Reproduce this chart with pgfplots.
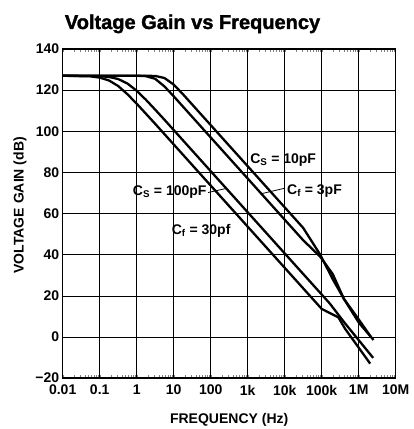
\documentclass[border=0pt]{standalone}
\usepackage{fontspec}
\setmainfont{Liberation Sans}
\newfontfamily\titlefont[FakeBold=1.6]{Liberation Sans Bold}
\usepackage{pgfplots}
\pgfplotsset{compat=1.18}
\begin{document}
\begin{tikzpicture}[curve/.style={black, line width=2.3pt, line join=round, mark=none}]
\begin{axis}[
  at={(0,0)}, anchor=south west,
  width=333pt, height=329pt, scale only axis,
  xmode=log, xmin=1e-2, xmax=1e7,
  ymin=-20, ymax=140,
  xtick={1e-2,1e-1,1,10,100,1e3,1e4,1e5,1e6,1e7},
  xticklabels={0.01,0.1,1,10,100,1k,10k,100k,1M,10M},
  ytick={-20,0,20,40,60,80,100,120,140},
  yticklabels={−20,0,20,40,60,80,100,120,140},
  minor xtick={},
  grid=major,
  major grid style={black, line width=0.5pt},
  major tick length=0pt,
  axis line style={line width=1.4pt},
  /pgf/number format/assume math mode=true,
  tick label style={font=\bfseries\fontsize{14}{16}\selectfont},
  xticklabel style={yshift=-6pt, inner sep=1pt},
  xlabel={FREQUENCY (Hz)}, ylabel={VOLTAGE GAIN (dB)},
  label style={font=\bfseries\fontsize{14}{16}\selectfont},
  xlabel style={at={(axis description cs:0.5,-0.137)},anchor=base},
  ylabel style={at={(axis description cs:-0.117,0.525)},anchor=base},
]
% Curve 1 (Cf = 30pF)
\addplot[curve] coordinates {(0.01,127) (0.0562,126.7) (0.1,126.1) (0.178,124.7) (0.316,122.0) (0.562,118.0) (1,113.4) (1.778,108.5) (3.162,103.6) (10,93.6) (100,73.6) (1000,53.6) (1e4,33.6) (1e5,13.6) (2.818e5,9.5) (4.266e5,4) (2.042e6,-13)};
% Curve 2 (Cs = 100pF)
\addplot[curve] coordinates {(0.01,127) (0.1,126.8) (0.178,126.4) (0.316,125.4) (0.562,123.2) (1,119.7) (1.778,115.3) (3.162,110.5) (5.623,105.6) (10,100.6) (31.62,90.6) (100,80.6) (1000,60.6) (1e4,40.6) (1e5,20.6) (1.66e5,16.2) (4.266e5,6.6) (2.455e6,-10.2)};
% Curve 3 (Cf = 3pF)
\addplot[curve] coordinates {(0.01,127) (1,127) (1.778,126.8) (3.162,125.5) (5.623,121.8) (10,117.0) (17.78,112.0) (31.62,107.0) (100,97.0) (1000,77.0) (1e4,57.0) (3.162e4,47.0) (9.12e4,39) (1.995e5,30.5) (3.981e5,18.5) (1e6,8.5) (2.138e6,0)};
% Curve 4 (Cs = 10pF)
\addplot[curve] coordinates {(0.01,127) (1,127) (3.162,126.9) (5.623,125.9) (10,122.7) (17.78,118.0) (31.62,113.0) (100,103.0) (316.2,93.0) (1000,83.0) (1e4,63.0) (3.162e4,53.0) (9.12e4,40) (1.995e5,28) (3.981e5,18.5) (1e6,7) (2.512e6,-1.5)};
% labels
\node[anchor=west, font=\bfseries\fontsize{14}{16}\selectfont, inner sep=0pt] at (axis cs:1160,86) {C\textsubscript{S} = 10pF};
\node[anchor=west, font=\bfseries\fontsize{14}{16}\selectfont, inner sep=0pt] at (axis cs:1.15e4,71) {C\textsubscript{f} = 3pF};
\node[anchor=east, font=\bfseries\fontsize{14}{16}\selectfont, inner sep=0pt] at (axis cs:78,70.5) {C\textsubscript{S} = 100pF};
\node[anchor=west, font=\bfseries\fontsize{14}{16}\selectfont, inner sep=0pt] at (axis cs:8.8,51.5) {C\textsubscript{f} = 30pf};
\draw[black, line width=0.8pt] (axis cs:85,70.2) -- (axis cs:265,72.2);
\draw[black, line width=0.8pt] (axis cs:9.5e3,72.2) -- (axis cs:2.19e3,69.5);
\end{axis}
\node[anchor=base west, inner sep=0pt, font=\titlefont\fontsize{20}{24}\selectfont] at (2pt,349pt) {Voltage Gain vs Frequency};
\pgfresetboundingbox
\path (-62.7pt,-51pt) rectangle (351.3pt,378pt);
\end{tikzpicture}
\end{document}
